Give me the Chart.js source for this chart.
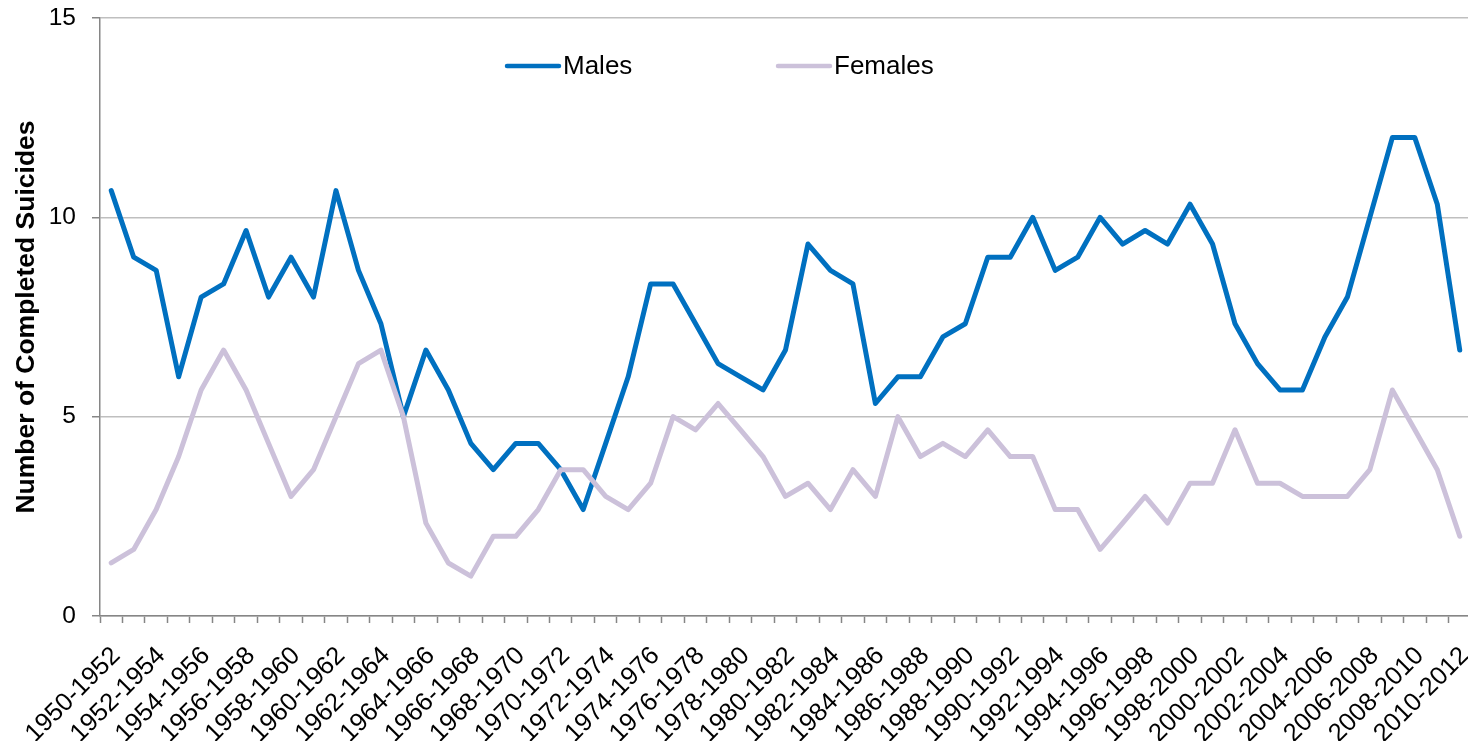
<!DOCTYPE html>
<html>
<head>
<meta charset="utf-8">
<title>Completed Suicides, 1950-2012</title>
<script src="https://cdn.jsdelivr.net/npm/chart.js@4.4.1/dist/chart.umd.min.js"></script>
<style>
  html, body { margin: 0; padding: 0; background: #ffffff; overflow: hidden; }
  #wrap { position: relative; width: 1471px; height: 741px; }
</style>
</head>
<body>
<div id="wrap"><canvas id="chart"></canvas></div>
<script>
// Three-year rolling periods
const categories = [
  '1950-1952','1951-1953','1952-1954','1953-1955','1954-1956','1955-1957','1956-1958','1957-1959',
  '1958-1960','1959-1961','1960-1962','1961-1963','1962-1964','1963-1965','1964-1966','1965-1967',
  '1966-1968','1967-1969','1968-1970','1969-1971','1970-1972','1971-1973','1972-1974','1973-1975',
  '1974-1976','1975-1977','1976-1978','1977-1979','1978-1980','1979-1981','1980-1982','1981-1983',
  '1982-1984','1983-1985','1984-1986','1985-1987','1986-1988','1987-1989','1988-1990','1989-1991',
  '1990-1992','1991-1993','1992-1994','1993-1995','1994-1996','1995-1997','1996-1998','1997-1999',
  '1998-2000','1999-2001','2000-2002','2001-2003','2002-2004','2003-2005','2004-2006','2005-2007',
  '2006-2008','2007-2009','2008-2010','2009-2011','2010-2012'
];

// Average number of completed suicides per period
const males = [
  10.67, 9, 8.67, 6, 8, 8.33, 9.67, 8, 9, 8, 10.67, 8.67, 7.33, 5, 6.67, 5.67,
  4.33, 3.67, 4.33, 4.33, 3.67, 2.67, 4.33, 6, 8.33, 8.33, 7.33, 6.33, 6, 5.67, 6.67, 9.33,
  8.67, 8.33, 5.33, 6, 6, 7, 7.33, 9, 9, 10, 8.67, 9, 10, 9.33, 9.67, 9.33,
  10.33, 9.33, 7.33, 6.33, 5.67, 5.67, 7, 8, 10, 12, 12, 10.33, 6.67
];
const females = [
  1.33, 1.67, 2.67, 4, 5.67, 6.67, 5.67, 4.33, 3, 3.67, 5, 6.33, 6.67, 5, 2.33, 1.33,
  1, 2, 2, 2.67, 3.67, 3.67, 3, 2.67, 3.33, 5, 4.67, 5.33, 4.67, 4, 3, 3.33,
  2.67, 3.67, 3, 5, 4, 4.33, 4, 4.67, 4, 4, 2.67, 2.67, 1.67, 2.33, 3, 2.33,
  3.33, 3.33, 4.67, 3.33, 3.33, 3, 3, 3, 3.67, 5.67, 4.67, 3.67, 2
];

const yTicks = [0, 5, 10, 15];
const seriesNames = ['Males', 'Females'];
const seriesColors = ['#0070C0', '#CCC1DA'];

const FONT = "'Liberation Sans', Arial, sans-serif";
const AXIS_GREY = '#868686';
const GRID_GREY = '#BFBFBF';

// Legend drawn inside the plot, near the top, as two line samples with labels
const inlineLegend = {
  id: 'inlineLegend',
  afterDraw(chart) {
    const ctx = chart.ctx;
    const area = chart.chartArea;
    const y = area.top + 48;
    const starts = [area.left + 405, area.left + 676];
    ctx.save();
    ctx.font = '26px ' + FONT;
    ctx.textBaseline = 'middle';
    ctx.textAlign = 'left';
    chart.data.datasets.forEach((ds, i) => {
      const x = starts[i];
      ctx.strokeStyle = ds.borderColor;
      ctx.lineWidth = 4.5;
      ctx.lineCap = 'round';
      ctx.beginPath();
      ctx.moveTo(x + 2, y);
      ctx.lineTo(x + 54, y);
      ctx.stroke();
      ctx.fillStyle = '#000000';
      ctx.fillText(ds.label, x + 58, y + 1);
    });
    ctx.restore();
  }
};

new Chart(document.getElementById('chart'), {
  type: 'line',
  data: {
    labels: categories,
    datasets: [
      {
        label: seriesNames[0],
        data: males,
        borderColor: seriesColors[0],
        backgroundColor: seriesColors[0],
        borderWidth: 5,
        borderJoinStyle: 'round',
        borderCapStyle: 'round',
        pointRadius: 0,
        tension: 0,
        order: 1
      },
      {
        label: seriesNames[1],
        data: females,
        borderColor: seriesColors[1],
        backgroundColor: seriesColors[1],
        borderWidth: 5,
        borderJoinStyle: 'round',
        borderCapStyle: 'round',
        pointRadius: 0,
        tension: 0,
        order: 0
      }
    ]
  },
  options: {
    responsive: true,
    maintainAspectRatio: false,
    animation: false,
    devicePixelRatio: 1,
    layout: { padding: { top: 18, right: 0, bottom: 0, left: 0 } },
    plugins: {
      legend: { display: false },
      tooltip: { enabled: false }
    },
    scales: {
      x: {
        type: 'category',
        offset: true,
        afterFit(scale) {
          scale.height = 125;
          scale.paddingLeft = 0;
          scale.paddingRight = 0;
        },
        grid: {
          offset: true,
          drawOnChartArea: false,
          drawTicks: true,
          tickLength: 7,
          tickColor: AXIS_GREY,
          tickWidth: 1.5
        },
        border: { color: AXIS_GREY, width: 1.5 },
        ticks: {
          autoSkip: false,
          minRotation: 45,
          maxRotation: 45,
          padding: 18,
          labelOffset: 5,
          color: '#000000',
          font: { family: FONT, size: 25.5 },
          callback(value, index) {
            return index % 2 === 0 ? categories[index] : '';
          }
        }
      },
      y: {
        min: 0,
        max: 15,
        afterFit(scale) {
          scale.width = 100;
          scale.paddingTop = 0;
          scale.paddingBottom = 0;
        },
        afterBuildTicks(scale) { scale.ticks = yTicks.map(v => ({ value: v })); },
        grid: {
          color: GRID_GREY,
          lineWidth: 1.5,
          tickColor: AXIS_GREY,
          tickLength: 8,
          tickWidth: 1.5
        },
        border: { color: AXIS_GREY, width: 1.5 },
        ticks: {
          padding: 16,
          color: '#000000',
          font: { family: FONT, size: 24.5 }
        },
        title: {
          display: true,
          text: 'Number of Completed Suicides',
          color: '#000000',
          font: { family: FONT, size: 26.5, weight: 'bold' },
          padding: { top: 11, bottom: 0 }
        }
      }
    }
  },
  plugins: [inlineLegend]
});
</script>
</body>
</html>
